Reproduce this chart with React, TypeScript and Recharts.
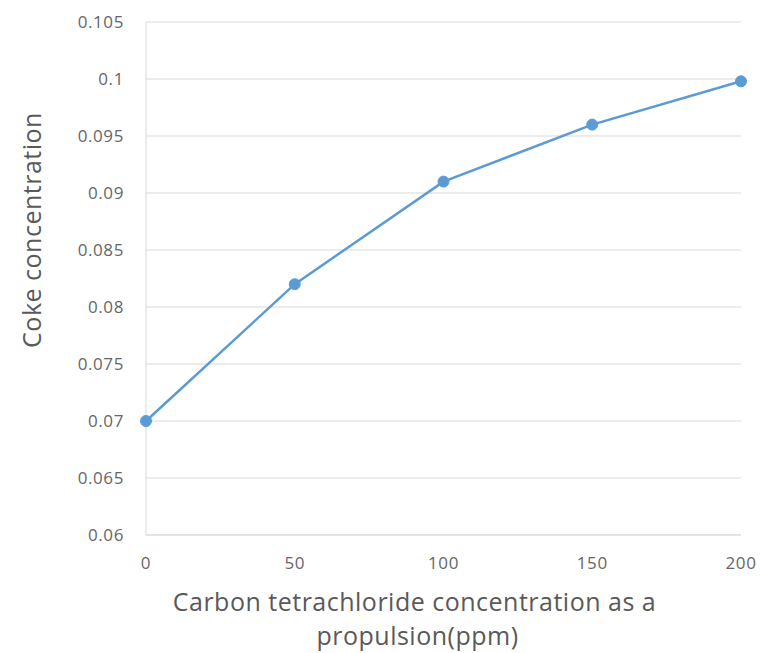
import React from "react";
import {
  LineChart,
  Line,
  XAxis,
  YAxis,
  CartesianGrid,
} from "recharts";

// CCl4 dosing (ppm) against measured coke concentration
const dosage = [0, 50, 100, 150, 200];
const coke = [0.07, 0.082, 0.091, 0.096, 0.0998];
const xTicks = [0, 50, 100, 150, 200];
const yTicks = [0.06, 0.065, 0.07, 0.075, 0.08, 0.085, 0.09, 0.095, 0.1, 0.105];

const data = dosage.map((d, i) => ({ x: d, y: coke[i] }));

const FONT = "'Open Sans', sans-serif";
const GRAY = "#595959";
const TICK = { fill: "#666", fontSize: 17, fontFamily: FONT, letterSpacing: 0.6 };

const XTitle = ({ viewBox }: any) => {
  // title sits a bit left of the plot centre, like the original
  const cx = viewBox.x + viewBox.width / 2 - 29;
  const top = viewBox.y;
  return (
    <text textAnchor="middle" fill={GRAY} fontFamily={FONT} fontSize={25} letterSpacing={0.5}>
      <tspan x={cx} y={top + 76}>Carbon tetrachloride concentration as a</tspan>
      <tspan x={cx + 3} y={top + 110}>propulsion(ppm)</tspan>
    </text>
  );
};

const YTitle = () => (
  <text
    x={41}
    y={230}
    transform="rotate(-90 41 230)"
    textAnchor="middle"
    fill={GRAY}
    fontFamily={FONT}
    fontSize={25}
    letterSpacing={0.5}
  >
    Coke concentration
  </text>
);

const fmt = (v: number) => String(Number(v.toFixed(3)));

export default function App() {
  return (
    <div style={{ position: "absolute", left: 0, top: 0, background: "#fff" }}>
      <LineChart
        width={760}
        height={653}
        data={data}
        margin={{ top: 22, right: 19, left: 60, bottom: 0 }}
      >
        <CartesianGrid horizontal vertical={false} stroke="#d9d9d9" />
        <XAxis
          dataKey="x"
          type="number"
          domain={[0, 200]}
          ticks={xTicks}
          height={118}
          tickLine={false}
          tickSize={0}
          tickMargin={22}
          stroke="#d9d9d9"
          tick={TICK}
          label={<XTitle />}
        />
        <YAxis
          type="number"
          domain={[0.06, 0.105]}
          ticks={yTicks}
          width={86}
          tickLine={false}
          tickSize={0}
          tickMargin={22}
          tickFormatter={fmt}
          stroke="#d9d9d9"
          tick={TICK}
          label={<YTitle />}
        />
        <Line
          type="linear"
          dataKey="y"
          stroke="#5b9bd5"
          strokeWidth={2.5}
          dot={{ r: 5.5, fill: "#5b9bd5", stroke: "#5b9bd5", strokeWidth: 1 }}
          isAnimationActive={false}
        />
      </LineChart>
    </div>
  );
}
